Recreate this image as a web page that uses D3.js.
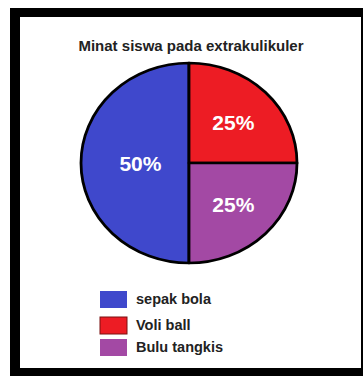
<!DOCTYPE html>
<html>
<head>
    <meta charset="utf-8">
    <style>
        html, body { margin: 0; padding: 0; background: white; }
        text { font-family: 'Liberation Sans', Arial, sans-serif; font-weight: bold; }
    </style>
</head>
<body>
    <svg id="chart" width="363" height="376"></svg>

    <script src="https://d3js.org/d3.v7.min.js"></script>
    <script>
        // data
        var title = "Minat siswa pada extrakulikuler";
        var categories = ["sepak bola", "Voli ball", "Bulu tangkis"];
        var values = [50, 25, 25];
        var colors = ["#3f48cc", "#ed1c24", "#a349a4"];

        var svg = d3.select("#chart");

        // black frame
        svg.append("rect").attr("x", 10).attr("y", 8).attr("width", 353).attr("height", 368).attr("fill", "black");
        svg.append("rect").attr("x", 20).attr("y", 17).attr("width", 341).attr("height", 351).attr("fill", "white");

        svg.append("text")
            .attr("x", 191).attr("y", 51)
            .attr("text-anchor", "middle")
            .attr("font-size", 15)
            .attr("fill", "#222")
            .text(title);

        var color = d3.scaleOrdinal().domain(categories).range(colors);

        var data = categories.map(function(c, i) { return {name: c, value: values[i]}; });

        // clockwise from top: red, purple, then blue on the left half
        var pie = d3.pie().sort(null).value(function(d) { return d.value; })
            .startAngle(Math.PI).endAngle(3 * Math.PI);

        var r = 100;
        var arc = d3.arc().innerRadius(0).outerRadius(r);

        var g = svg.append("g").attr("transform", "translate(189,163) scale(1.08,1)");

        var arcs = pie(data);
        g.selectAll("path")
            .data(arcs)
            .enter().append("path")
            .attr("d", arc)
            .attr("fill", function(d) { return color(d.data.name); })
            .attr("stroke", "black")
            .attr("stroke-width", 2.6)
            .attr("stroke-linejoin", "round");

        // big slice label sits closer in, small ones further out
        function labelPos(d) {
            var lr = (d.endAngle - d.startAngle) > Math.PI * 0.9 ? r * 0.45 : r * 0.58;
            var c = d3.arc().innerRadius(lr).outerRadius(lr).centroid(d);
            return [c[0] * 1.08, c[1]];
        }

        svg.append("g").attr("transform", "translate(189,163)")
            .selectAll("text")
            .data(arcs)
            .enter().append("text")
            .attr("transform", function(d) { return "translate(" + labelPos(d) + ")"; })
            .attr("dy", "0.36em")
            .attr("text-anchor", "middle")
            .attr("font-size", 21)
            .attr("fill", "white")
            .text(function(d) { return d.data.value + "%"; });

        // legend
        var legend = svg.append("g").attr("transform", "translate(100,291)");
        var rowY = [0, 26, 48];
        var item = legend.selectAll("g")
            .data(categories)
            .enter().append("g")
            .attr("transform", function(d, i) { return "translate(0," + rowY[i] + ")"; });

        item.append("rect")
            .attr("width", 27).attr("height", 17)
            .attr("fill", function(d) { return color(d); })
            .attr("stroke", function(d, i) { return i === 1 ? "#7a1010" : "none"; });

        item.append("text")
            .attr("x", 36).attr("y", 13)
            .attr("font-size", 14.5)
            .attr("fill", "#222")
            .text(function(d) { return d; });
    </script>
</body>
</html>
